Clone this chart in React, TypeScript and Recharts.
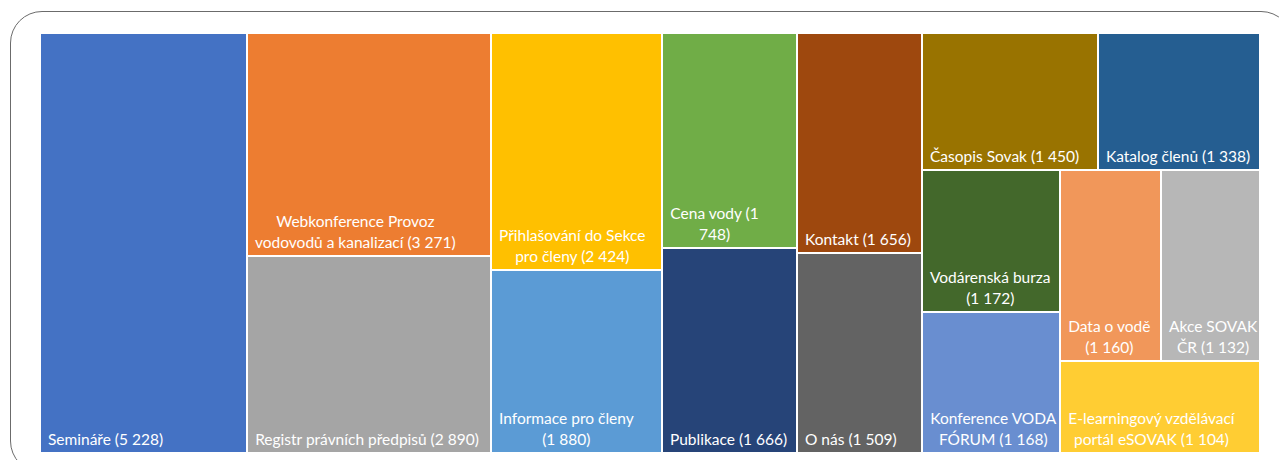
import React from 'react'
import { Treemap } from 'recharts'

// label lines as they wrap in the original chart
const labels: string[][] = [
  ['Semináře (5 228)'],
  ['Webkonference Provoz', 'vodovodů a kanalizací (3 271)'],
  ['Registr právních předpisů (2 890)'],
  ['Přihlašování do Sekce', 'pro členy (2 424)'],
  ['Informace pro členy', '(1 880)'],
  ['Cena vody (1', '748)'],
  ['Publikace (1 666)'],
  ['Kontakt (1 656)'],
  ['O nás (1 509)'],
  ['Časopis Sovak (1 450)'],
  ['Katalog členů (1 338)'],
  ['Vodárenská burza', '(1 172)'],
  ['Konference VODA', 'FÓRUM (1 168)'],
  ['Data o vodě', '(1 160)'],
  ['Akce SOVAK', 'ČR (1 132)'],
  ['E-learningový vzdělávací', 'portál eSOVAK (1 104)'],
]

const values = [5228, 3271, 2890, 2424, 1880, 1748, 1666, 1656, 1509, 1450, 1338, 1172, 1168, 1160, 1132, 1104]

const colors = [
  '#4472C4', '#ED7D31', '#A5A5A5', '#FFC000', '#5B9BD5', '#70AD47', '#264478', '#9E480E',
  '#636363', '#997300', '#255E91', '#43682B', '#698ED0', '#F1975A', '#B7B7B7', '#FFCD33',
]

// grouping that makes the squarify pass give the same columns as the Excel chart
type Layout = number | Layout[]
const layout: Layout[] = [0, [1, 2], [[3, 4], [[5, 6], [[7, 8], [9, 10, [[11, 12], [[13, 14], 15]]]]]]]

const build = (item: Layout): any =>
  typeof item === 'number'
    ? { name: labels[item].join(' '), size: values[item], fill: colors[item], lines: labels[item] }
    : { name: 'group', children: item.map(build) }

const data = layout.map(build)

const FONT_SIZE = 15.5
const FONT_FAMILY = 'Lato'
const ctx = document.createElement('canvas').getContext('2d')
const measure = (s: string) => {
  if (!ctx) return s.length * 8
  ctx.font = `${FONT_SIZE}px ${FONT_FAMILY}`
  return ctx.measureText(s).width
}

const renderCell = (props: any) => {
  const { x, y, width, height, fill, lines } = props
  if (!lines) return <g />
  const blockW = Math.max(...lines.map(measure))
  const cx = x + 8 + blockW / 2
  const last = y + height - 8
  return (
    <g>
      <rect x={x} y={y} width={width} height={height} fill={fill} stroke="#fff" strokeWidth={2} />
      {lines.map((l: string, i: number) => (
        <text
          key={i}
          x={cx}
          y={last - (lines.length - 1 - i) * 21}
          textAnchor="middle"
          fill="#fff"
          fontSize={FONT_SIZE}
          fontFamily={FONT_FAMILY}
        >
          {l}
        </text>
      ))}
    </g>
  )
}

const App = () => (
  <div style={{ margin: -8, position: 'relative', width: 1287, height: 468, overflow: 'hidden', background: '#fff' }}>
    <div
      style={{
        position: 'absolute',
        left: 10,
        top: 11,
        width: 1283,
        height: 462,
        border: '1px solid #6b6b6b',
        borderRadius: 32,
        boxSizing: 'border-box',
      }}
    />
    <div style={{ position: 'absolute', left: 40, top: 33 }}>
      <Treemap
        width={1220}
        height={420}
        data={data}
        dataKey="size"
        aspectRatio={1}
        isAnimationActive={false}
        content={renderCell}
      />
    </div>
  </div>
)

export default App
